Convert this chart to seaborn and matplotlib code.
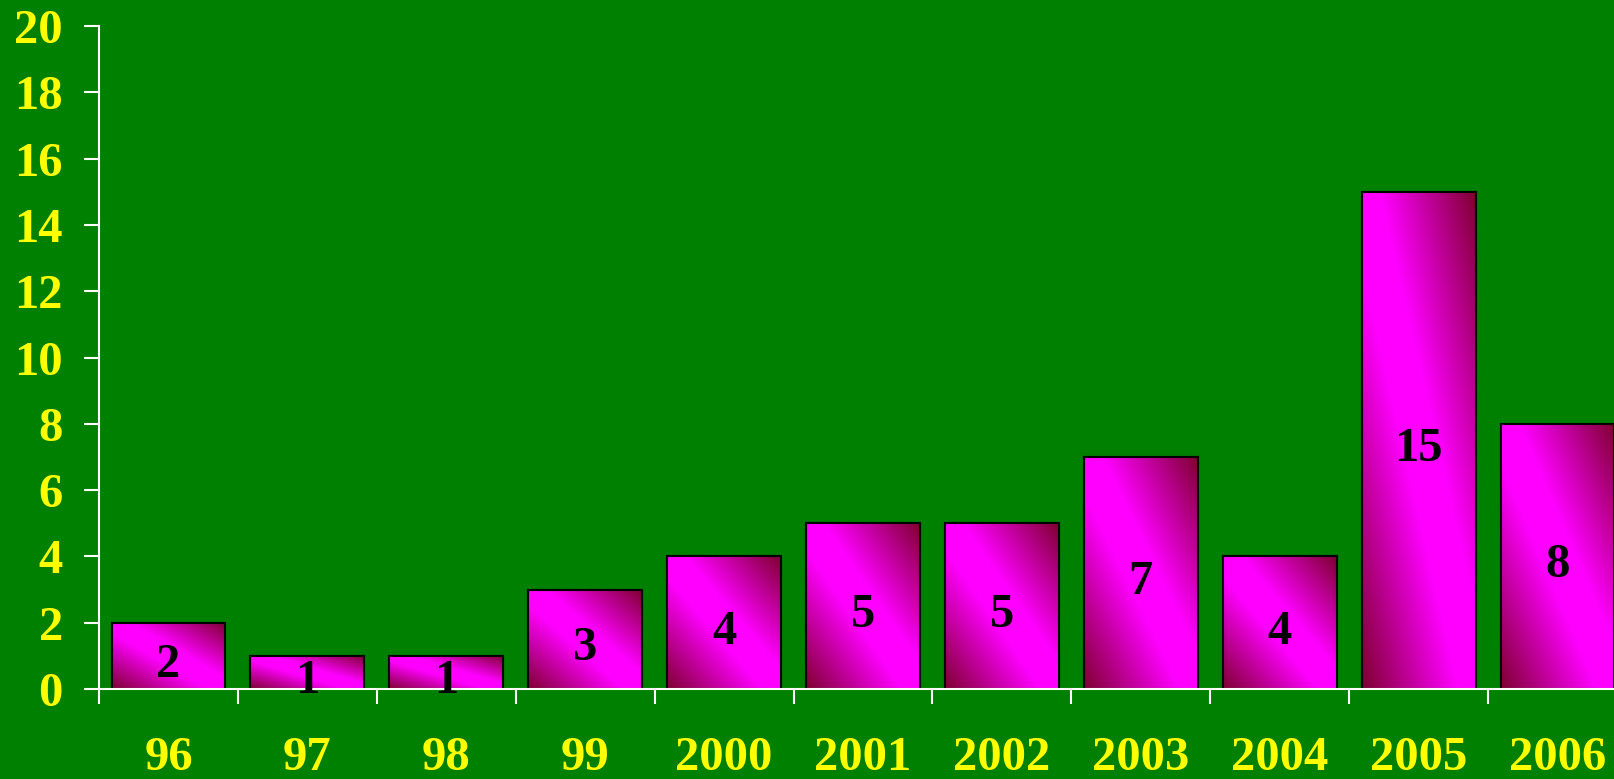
import numpy as np
import pandas as pd
import matplotlib
matplotlib.use("Agg")
import matplotlib.pyplot as plt
import seaborn as sns
from matplotlib.colors import LinearSegmentedColormap

categories = ['96', '97', '98', '99', '2000', '2001', '2002', '2003', '2004', '2005', '2006']
values = [2, 1, 1, 3, 4, 5, 5, 7, 4, 15, 8]
y_ticks = [0, 2, 4, 6, 8, 10, 12, 14, 16, 18, 20]

GREEN = '#008000'
YELLOW = '#FFFF00'

sns.set_style('white')
plt.rcParams['font.family'] = ['Liberation Serif', 'DejaVu Serif']
plt.rcParams['font.weight'] = 'bold'

fig = plt.figure(figsize=(16.14, 7.79), dpi=100)
fig.patch.set_facecolor(GREEN)
ax = fig.add_axes([99/1614, 1-689/779, (1627-99)/1614, (689-26)/779])
ax.set_facecolor(GREEN)

df = pd.DataFrame({'year': categories, 'count': values})
sns.barplot(data=df, x='year', y='count', ax=ax, color='#FF00FF', width=0.82,
            edgecolor='black', linewidth=1.5, saturation=1)

ax.set_xlim(-0.5, len(categories) - 0.5)
ax.set_ylim(0, 20)

# gradient fill on each bar
cmap = LinearSegmentedColormap.from_list('g', [(0, '#7F0030'), (0.42, '#FF00FF'), (0.58, '#FF00FF'), (1, '#7F0030')])
n = 128
u = np.linspace(0, 1, n)
U, V = np.meshgrid(u, u)
grad = (U + V) / 2
for p in list(ax.patches):
    x0, y0 = p.get_x(), p.get_y()
    w, h = p.get_width(), p.get_height()
    im = ax.imshow(grad, cmap=cmap, vmin=0, vmax=1, origin='lower',
                   extent=[x0, x0 + w, y0, y0 + h], aspect='auto', zorder=p.get_zorder() + 0.1,
                   interpolation='bicubic')
    im.set_clip_path(p)
    edge = plt.Rectangle((x0, y0), w, h, fill=False, edgecolor='black', linewidth=1.5,
                         zorder=p.get_zorder() + 0.2)
    ax.add_patch(edge)
ax.set_xlim(-0.5, len(categories) - 0.5)
ax.set_ylim(0, 20)
ax.set_aspect('auto')

# bar labels
for i, v in enumerate(values):
    ax.annotate(str(v), (i, v / 2), xytext=(0, -15), textcoords='offset points',
                ha='center', va='baseline', fontsize=35, fontweight='bold',
                color='black', zorder=10)

# axes styling
for s in ['top', 'right']:
    ax.spines[s].set_visible(False)
for s in ['left', 'bottom']:
    ax.spines[s].set_color('white')
    ax.spines[s].set_linewidth(1.5)

ax.set_yticks(y_ticks)
ax.set_yticklabels([str(t) for t in y_ticks])
ax.set_xticks(np.arange(-0.5, len(categories), 1.0))
ax.set_xticklabels([])
ax.set_xticks(np.arange(len(categories)), minor=True)
ax.set_xticklabels(categories, minor=True)
ax.tick_params(axis='x', which='major', direction='out', length=11, width=1.5, color='white', bottom=True)
ax.tick_params(axis='x', which='minor', length=0, pad=34, labelsize=35, labelcolor=YELLOW)
ax.tick_params(axis='y', direction='out', length=11, width=1.5, color='white', left=True,
               pad=15, labelsize=35, labelcolor=YELLOW)
for lab in ax.get_xticklabels(minor=True) + ax.get_yticklabels():
    lab.set_fontweight('bold')
ax.set_xlabel('')
ax.set_ylabel('')

fig.savefig('out.png', dpi=100, facecolor=GREEN)
